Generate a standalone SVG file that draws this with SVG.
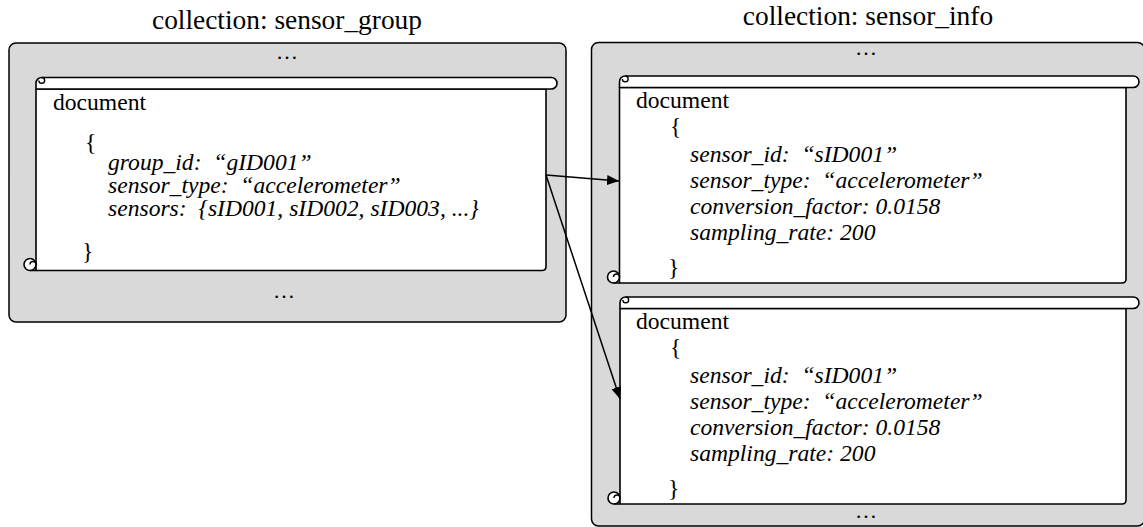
<svg xmlns="http://www.w3.org/2000/svg" width="1143" height="527" viewBox="0 0 1143 527">
<style>
.box{fill:#d9d9d9;stroke:#000;stroke-width:1.5}
.scroll{fill:#fff;stroke:#000;stroke-width:1.6;stroke-linejoin:round}
.curl{fill:none;stroke:#000;stroke-width:1.4}
.title{font-family:"Liberation Serif","Times New Roman",serif;font-size:27.4px;fill:#000;text-anchor:middle}
.t{font-family:"Liberation Serif","Times New Roman",serif;font-size:23.6px;fill:#000;white-space:pre}
.it{font-style:italic}
.dots{font-family:"Liberation Serif","Times New Roman",serif;font-size:22px;fill:#000;text-anchor:middle}
.conn{stroke:#000;stroke-width:1.5;fill:none;marker-end:url(#arrow)}
</style>
<defs>
<marker id="arrow" markerUnits="userSpaceOnUse" markerWidth="12" markerHeight="10" refX="12" refY="5" orient="auto">
<path d="M0,0 L12,5 L0,10 Z" fill="#000"/>
</marker>
</defs>

<g id="collection-sensor-group">
<text class="title" x="287" y="29">collection: sensor_group</text>
<rect class="box" x="9" y="43" width="557" height="279" rx="7"/>
<text class="dots" x="287" y="59">…</text>
<text class="dots" x="284" y="298">…</text>
</g>

<g id="collection-sensor-info">
<text class="title" x="868" y="25">collection: sensor_info</text>
<rect class="box" x="591.5" y="42.5" width="553" height="483.5" rx="7"/>
<text class="dots" x="866" y="55">…</text>
<text class="dots" x="866" y="518">…</text>
</g>

<g id="doc-group">
<path class="scroll" d="M36,89 V270.5 H542 Q546,270.5 546,266.5 V89 Z"/>
<path class="scroll" d="M36,89 V83.25 A5.75,5.75 0 0 1 41.75,77.5 H551.25 A5.75,5.75 0 0 1 551.25,89 Z"/>
<path class="curl" d="M41.75,77.5 A2.875,2.875 0 0 1 41.75,83.25 A2.875,2.875 0 0 1 38.875,80.375"/>
<circle class="scroll" cx="30" cy="264.5" r="6"/>
<path class="curl" d="M30,270.5 H36 M30,264.5 A3,3 0 0 1 36,264.5"/>
<text class="t" x="53" y="110">document</text>
<text class="t" x="85" y="150">{</text>
<text class="t it" x="108" y="170">group_id:  “gID001”</text>
<text class="t it" x="108" y="193">sensor_type:  “accelerometer”</text>
<text class="t it" x="108" y="216">sensors:  {sID001, sID002, sID003, ...}</text>
<text class="t" x="82" y="259">}</text>
</g>

<g id="doc-info-1">
<path class="scroll" d="M619.5,87.5 V283 H1122 Q1126,283 1126,279 V87.5 Z"/>
<path class="scroll" d="M619.5,87.5 V81.75 A5.75,5.75 0 0 1 625.25,76 H1133.25 A5.75,5.75 0 0 1 1133.25,87.5 Z"/>
<path class="curl" d="M625.25,76 A2.875,2.875 0 0 1 625.25,81.75 A2.875,2.875 0 0 1 622.375,78.875"/>
<circle class="scroll" cx="613.5" cy="277" r="6"/>
<path class="curl" d="M613.5,283 H619.5 M613.5,277 A3,3 0 0 1 619.5,277"/>
<text class="t" x="636" y="108">document</text>
<text class="t" x="670" y="134">{</text>
<text class="t it" x="690" y="162">sensor_id:  “sID001”</text>
<text class="t it" x="690" y="188">sensor_type:  “accelerometer”</text>
<text class="t it" x="690" y="214">conversion_factor: 0.0158</text>
<text class="t it" x="690" y="240">sampling_rate: 200</text>
<text class="t" x="668" y="275">}</text>
</g>

<g id="doc-info-2">
<path class="scroll" d="M620,308.5 V504 H1122 Q1126,504 1126,500 V308.5 Z"/>
<path class="scroll" d="M620,308.5 V302.75 A5.75,5.75 0 0 1 625.75,297 H1133.25 A5.75,5.75 0 0 1 1133.25,308.5 Z"/>
<path class="curl" d="M625.75,297 A2.875,2.875 0 0 1 625.75,302.75 A2.875,2.875 0 0 1 622.875,299.875"/>
<circle class="scroll" cx="614" cy="498" r="6"/>
<path class="curl" d="M614,504 H620 M614,498 A3,3 0 0 1 620,498"/>
<text class="t" x="636" y="329">document</text>
<text class="t" x="670" y="355">{</text>
<text class="t it" x="690" y="383">sensor_id:  “sID001”</text>
<text class="t it" x="690" y="409">sensor_type:  “accelerometer”</text>
<text class="t it" x="690" y="435">conversion_factor: 0.0158</text>
<text class="t it" x="690" y="461">sampling_rate: 200</text>
<text class="t" x="668" y="496">}</text>
</g>

<g id="connectors">
<path class="conn" d="M546,175 L619,181"/>
<path class="conn" d="M546,175 L620,399"/>
</g>
</svg>
